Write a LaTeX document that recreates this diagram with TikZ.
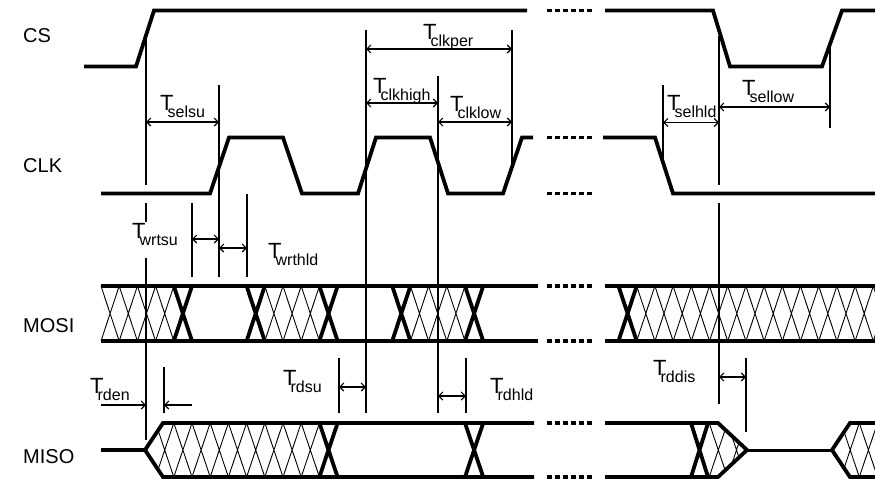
\documentclass[tikz,border=0pt]{standalone}
\usepackage{fontspec}
\setmainfont{Liberation Sans}
\usetikzlibrary{arrows.meta}
\newcommand{\TT}[1]{{\fontsize{22}{24}\selectfont T}\kern-6pt\raisebox{-7.5pt}{\fontsize{16}{18}\selectfont #1}}
\newcommand{\xcell}[4]{% #1 x0, #2 width, #3 top, #4 bottom
  (#1,#3) -- ({#1+#2},#4) ({#1+#2},#3) -- (#1,#4)}
\begin{document}
\begin{tikzpicture}[x=1pt,y=-1pt,
  sig/.style={line width=3.8pt},
  thinl/.style={line width=1.1pt},
  hat/.style={line width=0.9pt},
  dim/.style={line width=1.1pt,{Straight Barb[length=4pt,width=8pt]}-{Straight Barb[length=4pt,width=8pt]}},
  dimr/.style={line width=1.1pt,-{Straight Barb[length=4pt,width=8pt]}},
  dotsig/.style={line width=3.8pt,dash pattern=on 5pt off 3pt},
  lab/.style={font=\fontsize{20}{22}\selectfont, anchor=base west, inner sep=0pt},
  tl/.style={anchor=base west, inner sep=0pt}
]
\useasboundingbox (0,0) rectangle (875,480);
\fill[white] (0,0) rectangle (875,480);

% signal names
\node[lab] (ncs) at (23,42.5) {CS};
\node[lab] (nclk) at (23,172.5) {CLK};
\node[lab] (nmosi) at (23,332.5) {MOSI};
\node[lab] (nmiso) at (23,463.5) {MISO};

% CS
\draw[sig] (84,66.5) -- (136,66.5) -- (154,10.5) -- (527,10.5);
\draw[dotsig] (547,10.5) -- (592,10.5);
\draw[sig] (605,10.5) -- (713,10.5) -- (730,66.5) -- (822,66.5) -- (842,10.5) -- (875,10.5);

% CLK
\draw[sig] (101,193.5) -- (210,193.5) -- (229,137.5) -- (283,137.5) -- (302,193.5) -- (358,193.5) -- (376,137.5) -- (430,137.5) -- (448,193.5) -- (503,193.5) -- (522,137.5) -- (533,137.5);
\draw[dotsig] (547,137.5) -- (592,137.5);
\draw[dotsig] (547,193.5) -- (592,193.5);
\draw[sig] (603,137.5) -- (655,137.5) -- (673,193.5) -- (875,193.5);

% MOSI
\def\w{18.2}
\foreach \k in {0,1,2,3,9,10,11,17,18,19}{
  \draw[hat] \xcell{101+\k*\w}{\w}{286}{341};
}
\foreach \k in {4,8,12,16,20}{
  \draw[sig] \xcell{101+\k*\w}{\w}{286}{341};
}
\draw[sig] (101,286) -- (538,286);
\draw[sig] (101,341) -- (538,341);
\draw[dotsig] (547,286) -- (592,286);
\draw[dotsig] (547,341) -- (592,341);
\begin{scope}
\clip (636,280) rectangle (875,350);
\foreach \k in {1,...,14}{
  \draw[hat] \xcell{618.5+\k*\w}{\w}{286}{341};
}
\end{scope}
\draw[sig] \xcell{618.5}{\w}{286}{341};
\draw[sig] (605,286) -- (875,286);
\draw[sig] (605,341) -- (875,341);

% MISO
\begin{scope}
\clip (145,450) -- (163,423) -- (330,423) -- (330,477) -- (163,477) -- cycle;
\foreach \k in {2,...,11}{
  \draw[hat] \xcell{101+\k*\w}{\w}{423}{477};
}
\end{scope}
\draw[sig] \xcell{101+12*\w}{\w}{423}{477};
\draw[sig] \xcell{101+20*\w}{\w}{423}{477};
\draw[sig] (101,450) -- (145,450);
\draw[sig,line join=miter] (534,423) -- (163,423) -- (145,450) -- (163,477) -- (534,477);
\draw[dotsig] (547,423) -- (592,423);
\draw[dotsig] (547,477) -- (592,477);
\begin{scope}
\clip (700,423) -- (718,423) -- (747,450) -- (718,477) -- (700,477) -- cycle;
\foreach \k in {0,1,2}{
  \draw[hat] \xcell{691+\k*\w}{\w}{423}{477};
}
\end{scope}
\draw[sig] \xcell{691}{17}{423}{477};
\draw[sig,line join=miter] (605,423) -- (718,423) -- (747,450) -- (718,477) -- (605,477);
\draw[line width=3pt] (747,450) -- (832,450);
\begin{scope}
\clip (832,450) -- (850,423) -- (880,423) -- (880,477) -- (850,477) -- cycle;
\foreach \k in {0,1,2}{
  \draw[hat] \xcell{822.9+\k*\w}{\w}{423}{477};
}
\end{scope}
\draw[sig,line join=miter] (880,423) -- (850,423) -- (832,450) -- (850,477) -- (880,477);

% vertical reference lines
\draw[thinl] (146,36) -- (146,185) (146,203) -- (146,222) (146,258) -- (146,440);
\draw[thinl] (219,85) -- (219,277);
\draw[thinl] (192,203) -- (192,277);
\draw[thinl] (247,194) -- (247,277);
\draw[thinl] (366,30) -- (366,413);
\draw[thinl] (438,76) -- (438,413);
\draw[thinl] (512,30) -- (512,167);
\draw[thinl] (663,85) -- (663,162);
\draw[thinl] (719,36) -- (719,185) (719,203) -- (719,404);
\draw[thinl] (830,45) -- (830,128);
\draw[thinl] (164,367) -- (164,413);
\draw[thinl] (339,358) -- (339,413);
\draw[thinl] (466,358) -- (466,413);
\draw[thinl] (746,358) -- (746,432);

% dimension arrows
\draw[dim] (146,122) -- (219,122);
\draw[dim] (366,49) -- (512,49);
\draw[dim] (366,103) -- (438,103);
\draw[dim] (438,122) -- (512,122);
\draw[dim] (663,122.5) -- (719,122.5);
\draw[dim] (719,107) -- (830,107);
\draw[dim] (192,239) -- (219,239);
\draw[dim] (219,248) -- (247,248);
\draw[dimr] (101,405) -- (146,405);
\draw[dimr] (192,405) -- (164,405);
\draw[dim] (339,387) -- (366,387);
\draw[dim] (438,396) -- (466,396);
\draw[dim] (719,377) -- (746,377);

% timing labels
\node[tl] (tselsu) at (160,110) {\TT{selsu}};
\node[tl] (tclkper) at (423,39) {\TT{clkper}};
\node[tl] (tclkhigh) at (373,93) {\TT{clkhigh}};
\node[tl] (tclklow) at (450,111) {\TT{clklow}};
\node[tl] (tselhld) at (667,110) {\TT{selhld}};
\node[tl] (tsellow) at (742,95) {\TT{sellow}};
\node[tl] (twrtsu) at (132,238) {\TT{wrtsu}};
\node[tl] (twrthld) at (268,258) {\TT{wrthld}};
\node[tl] (trden) at (90,393) {\TT{rden}};
\node[tl] (trdsu) at (283,385) {\TT{rdsu}};
\node[tl] (trdhld) at (490,393) {\TT{rdhld}};
\node[tl] (trddis) at (653,375) {\TT{rddis}};
\end{tikzpicture}
\end{document}
